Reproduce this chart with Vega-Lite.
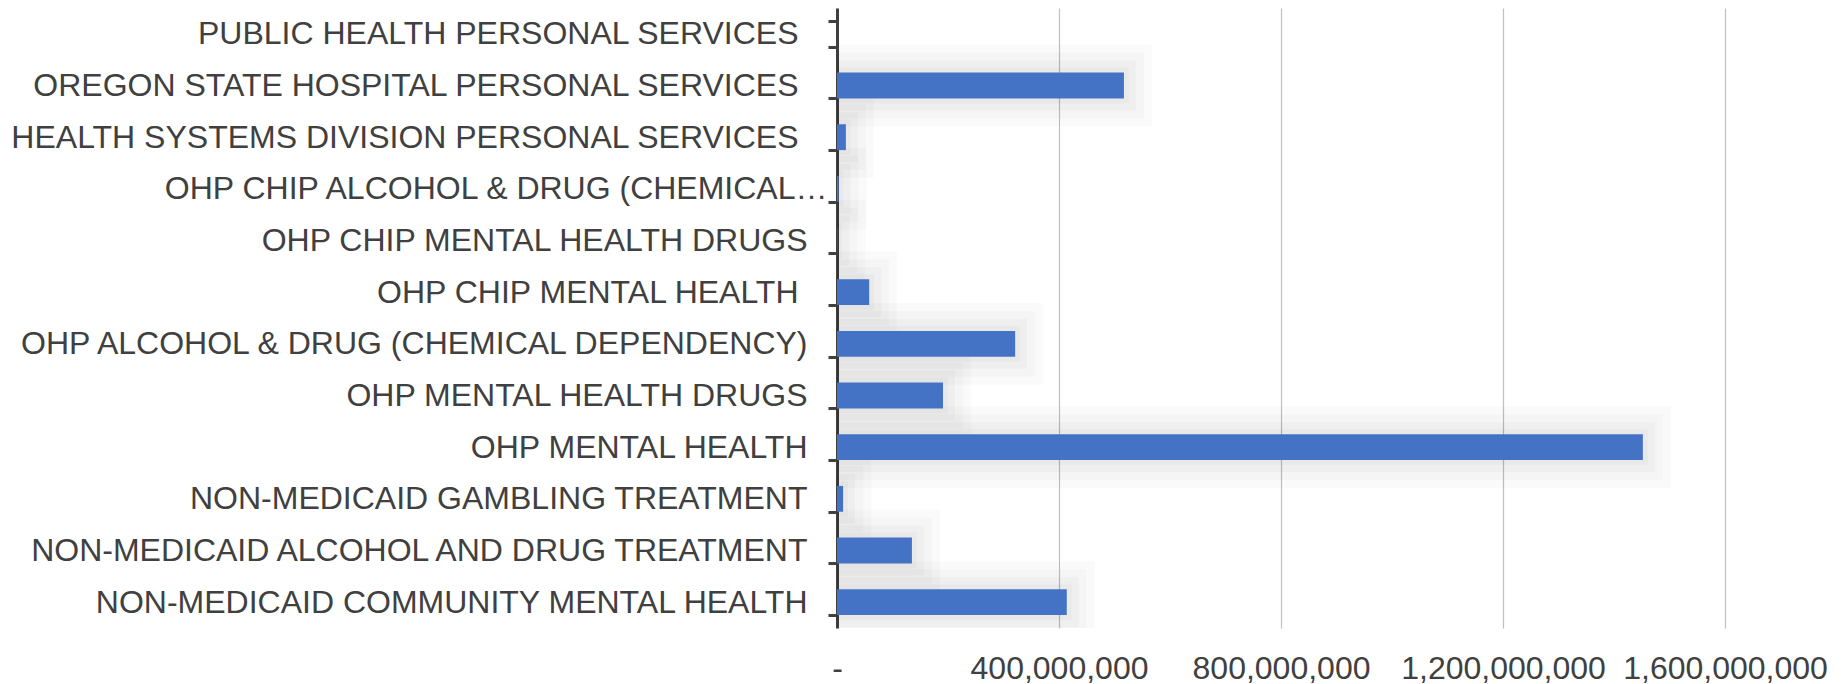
{
  "$schema": "https://vega.github.io/schema/vega-lite/v6.json",
  "width": 888,
  "height": 620,
  "autosize": {"type": "none"},
  "padding": {"left": 837, "top": 8, "right": 116, "bottom": 56},
  "background": "white",
  "config": {"view": {"stroke": null}, "font": "Liberation Sans"},
  "data": {
    "values": [
      {"category": "PUBLIC HEALTH PERSONAL SERVICES", "value": 0},
      {"category": "OREGON STATE HOSPITAL PERSONAL SERVICES", "value": 517000000},
      {"category": "HEALTH SYSTEMS DIVISION PERSONAL SERVICES", "value": 16000000},
      {"category": "OHP CHIP ALCOHOL & DRUG (CHEMICAL…", "value": 3000000},
      {"category": "OHP CHIP MENTAL HEALTH DRUGS", "value": 500000},
      {"category": "OHP CHIP MENTAL HEALTH", "value": 58000000},
      {"category": "OHP ALCOHOL & DRUG (CHEMICAL DEPENDENCY)", "value": 321000000},
      {"category": "OHP MENTAL HEALTH DRUGS", "value": 191000000},
      {"category": "OHP MENTAL HEALTH", "value": 1452000000},
      {"category": "NON-MEDICAID GAMBLING TREATMENT", "value": 11000000},
      {"category": "NON-MEDICAID ALCOHOL AND DRUG TREATMENT", "value": 135000000},
      {"category": "NON-MEDICAID COMMUNITY MENTAL HEALTH", "value": 414000000}
    ]
  },
  "encoding": {
    "y": {
      "field": "category",
      "type": "nominal",
      "sort": null,
      "scale": {
        "paddingInner": 0.5,
        "paddingOuter": 0.25,
        "domain": [
          "PUBLIC HEALTH PERSONAL SERVICES",
          "OREGON STATE HOSPITAL PERSONAL SERVICES",
          "HEALTH SYSTEMS DIVISION PERSONAL SERVICES",
          "OHP CHIP ALCOHOL & DRUG (CHEMICAL…",
          "OHP CHIP MENTAL HEALTH DRUGS",
          "OHP CHIP MENTAL HEALTH",
          "OHP ALCOHOL & DRUG (CHEMICAL DEPENDENCY)",
          "OHP MENTAL HEALTH DRUGS",
          "OHP MENTAL HEALTH",
          "NON-MEDICAID GAMBLING TREATMENT",
          "NON-MEDICAID ALCOHOL AND DRUG TREATMENT",
          "NON-MEDICAID COMMUNITY MENTAL HEALTH"
        ]
      },
      "axis": {
        "title": null,
        "tickBand": "extent",
        "labelFont": "Liberation Sans",
        "labelFontSize": 32,
        "labelColor": "#404040",
        "labelLimit": 0,
        "labelPadding": {
          "condition": [
            {"test": "indexof(['PUBLIC HEALTH PERSONAL SERVICES','OREGON STATE HOSPITAL PERSONAL SERVICES','HEALTH SYSTEMS DIVISION PERSONAL SERVICES','OHP CHIP MENTAL HEALTH'], datum.value) >= 0", "value": 30},
            {"test": "datum.value === 'OHP CHIP ALCOHOL & DRUG (CHEMICAL…'", "value": 1}
          ],
          "value": 21
        },
        "tickSize": 9,
        "tickWidth": 3,
        "tickColor": "#404040",
        "domainColor": "#404040",
        "domainWidth": 3,
        "grid": false
      }
    },
    "x": {
      "field": "value",
      "type": "quantitative",
      "scale": {"domain": [0, 1600000000], "nice": false},
      "axis": {
        "title": null,
        "values": [0, 400000000, 800000000, 1200000000, 1600000000],
        "labelExpr": "datum.value === 0 ? '-' : format(datum.value, ',')",
        "labelFont": "Liberation Sans",
        "labelFontSize": 32,
        "labelColor": "#404040",
        "labelLimit": 0,
        "labelPadding": 25,
        "labelFlush": false,
        "labelOverlap": false,
        "ticks": false,
        "domain": false,
        "grid": true,
        "gridColor": "#c0c0c0",
        "gridWidth": 1.2
      }
    }
  },
  "layer": [
    {
      "transform": [{"filter": "datum.value > 0"}],
      "mark": {"type": "bar", "clip": true, "fill": null, "fillOpacity": 0, "stroke": "#000000", "strokeOpacity": 0.018, "strokeWidth": 56}
    },
    {
      "transform": [{"filter": "datum.value > 0"}],
      "mark": {"type": "bar", "clip": true, "fill": null, "fillOpacity": 0, "stroke": "#000000", "strokeOpacity": 0.02, "strokeWidth": 40}
    },
    {
      "transform": [{"filter": "datum.value > 0"}],
      "mark": {"type": "bar", "clip": true, "fill": null, "fillOpacity": 0, "stroke": "#000000", "strokeOpacity": 0.022, "strokeWidth": 24}
    },
    {
      "transform": [{"filter": "datum.value > 0"}],
      "mark": {"type": "bar", "clip": true, "fill": null, "fillOpacity": 0, "stroke": "#000000", "strokeOpacity": 0.025, "strokeWidth": 10}
    },
    {
      "mark": {"type": "bar", "color": "#4472C4"}
    }
  ]
}
